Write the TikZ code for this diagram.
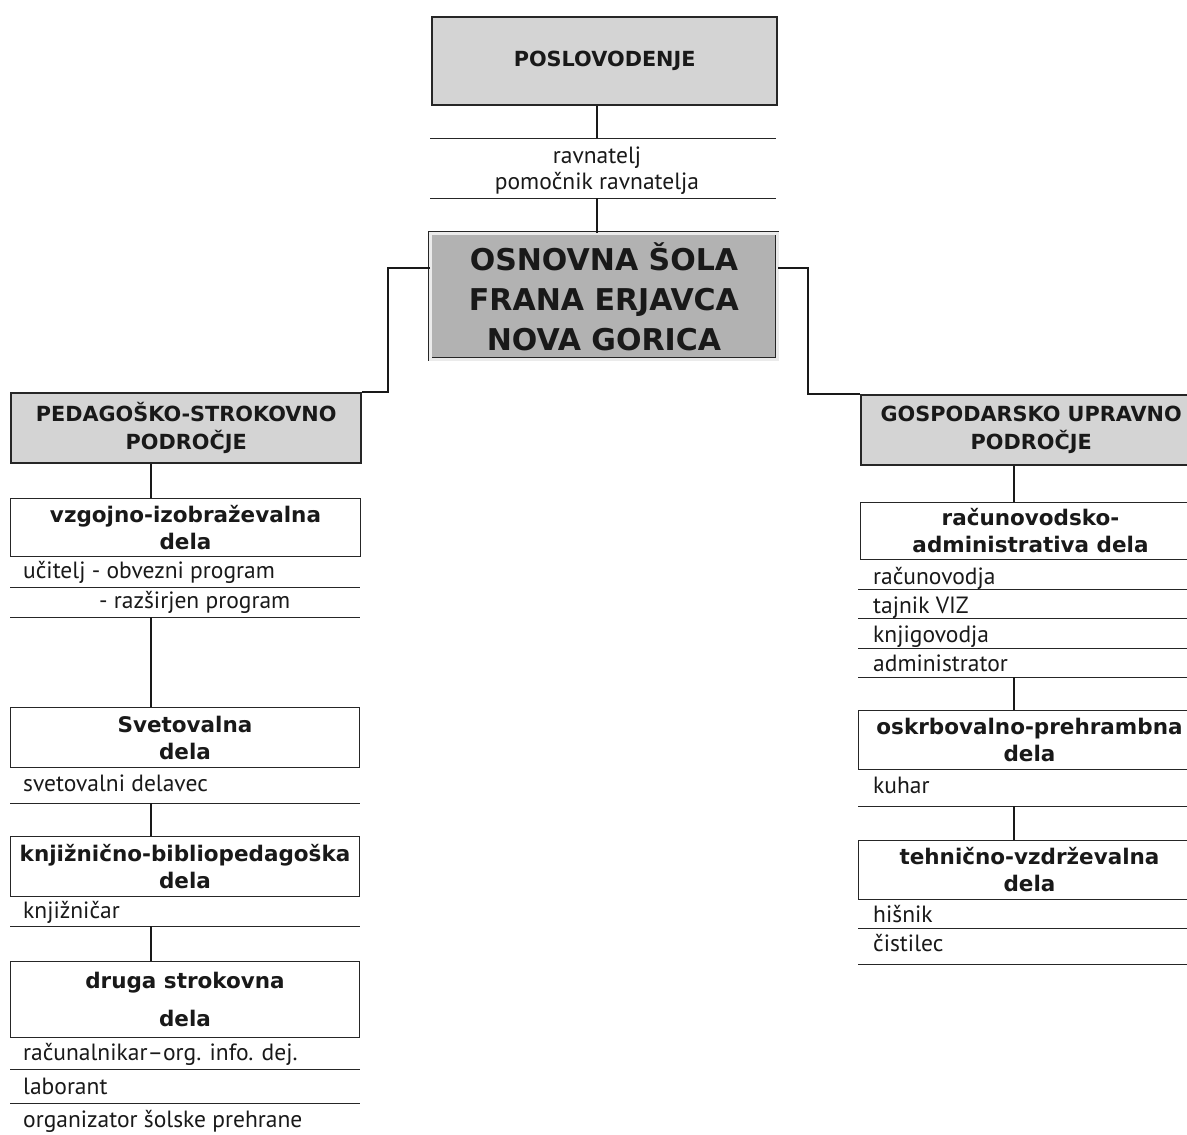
\documentclass[tikz,border=0pt]{standalone}
\usepackage{fontspec}
\setmainfont{PT Sans}
\newfontfamily\hfont{DejaVu Sans}
\begin{document}
\begin{tikzpicture}[x=1pt,y=-1pt,
  hd/.style={font=\hfont\bfseries\fontsize{21.5}{27}\selectfont, text=black!90},
  hdc/.style={font=\hfont\bfseries\fontsize{20.8}{28}\selectfont},
  body/.style={font=\fontsize{23.5}{27}\selectfont, text=black!90, inner sep=0pt, anchor=mid west, yshift=-3pt},
  bodyc/.style={body, anchor=mid},
  box/.style={draw=black!85, line width=1pt, anchor=north west, align=center, inner sep=0pt, hd, fill=white},
  gbox/.style={box, fill=black!17, line width=2.4pt, hdc},
  cbox/.style={box, fill=black!30, line width=0.9pt, double=black!8, double distance=2.2pt,
     font=\hfont\bfseries\fontsize{30}{40}\selectfont},
  rule/.style={line width=1pt, draw=black!85},
  conn/.style={line width=2pt, draw=black!90},
  thinconn/.style={line width=1.2pt, draw=black!90}]
\clip (0,0) rectangle (1187,1135);
\fill[white] (0,0) rectangle (1187,1135);

% top
\node[gbox, minimum width=345pt, minimum height=88pt] (pos) at (431,16) {POSLOVODENJE};
\coordinate (vt) at (597,0);
\coordinate (r1a) at (430,138); \coordinate (r1b) at (776,138);
\coordinate (r2a) at (430,198); \coordinate (r2b) at (776,198);
\draw[rule] (r1a) -- (r1b);
\draw[rule] (r2a) -- (r2b);
\node[bodyc] (rav) at (597,158) {ravnatelj};
\node[bodyc] (pom) at (597,184) {pomočnik ravnatelja};
\node[cbox, minimum width=347pt, minimum height=126pt] (os) at (430,233) {OSNOVNA ŠOLA\\FRANA ERJAVCA\\NOVA GORICA};
\draw[conn] (pos.south -| vt) -- (r1a -| vt);
\draw[conn] (r2a -| vt) -- (os.north -| vt);

% headers
\node[gbox, minimum width=350pt, minimum height=70pt] (ped) at (10,392) {PEDAGOŠKO-STROKOVNO\\PODROČJE};
\node[gbox, minimum width=340pt, minimum height=70pt] (gos) at (860,394) {GOSPODARSKO UPRAVNO\\PODROČJE};
\coordinate (cl) at (388,268);
\coordinate (cr) at (808,268);
\draw[thinconn] (os.west |- cl) -| (cl |- ped.north) -- (ped.north east);
\draw[thinconn] (os.east |- cr) -| (cr |- gos.north) -- (gos.north west);

% left column
\coordinate (vl) at (151,0);
\node[box, minimum width=350pt, minimum height=58pt] (vzg) at (10,498) {vzgojno-izobraževalna\\dela};
\draw[conn] (ped.south -| vl) -- (vzg.north -| vl);
\node[body] (uc) at (23,573) {učitelj - obvezni program};
\draw[rule] (10,587) -- (360,587);
\node[body] (raz) at (99,603) {- razširjen program};
\coordinate (lr2) at (10,617);
\draw[rule] (lr2) -- (360,617);
\node[box, minimum width=349pt, minimum height=60pt] (sve) at (10,707) {Svetovalna\\dela};
\draw[conn] (lr2 -| vl) -- (sve.north -| vl);
\node[body] (svd) at (23,786) {svetovalni delavec};
\coordinate (lr3) at (10,803);
\draw[rule] (lr3) -- (360,803);
\node[box, minimum width=349pt, minimum height=60pt] (knj) at (10,836) {knjižnično-bibliopedagoška\\dela};
\draw[conn] (lr3 -| vl) -- (knj.north -| vl);
\node[body] (knc) at (23,913) {knjižničar};
\coordinate (lr4) at (10,926);
\draw[rule] (lr4) -- (360,926);
\node[box, minimum width=349pt, minimum height=76pt, font=\hfont\bfseries\fontsize{21.5}{38}\selectfont] (dru) at (10,961) {druga strokovna\\dela};
\draw[conn] (lr4 -| vl) -- (dru.north -| vl);
\node[body] (rac) at (23,1055) {računalnikar–org. info. dej.};
\draw[rule] (10,1069) -- (360,1069);
\node[body] (lab) at (23,1089) {laborant};
\draw[rule] (10,1103) -- (360,1103);
\node[body] (org) at (23,1122) {organizator šolske prehrane};

% right column
\coordinate (vr) at (1014,0);
\node[box, minimum width=340pt, minimum height=57pt] (rcv) at (860,502) {računovodsko-\\administrativa dela};
\draw[conn] (gos.south -| vr) -- (rcv.north -| vr);
\node[body] (rv) at (873,579) {računovodja};
\draw[rule] (858,589) -- (1200,589);
\node[body] (taj) at (873,608) {tajnik VIZ};
\draw[rule] (858,618) -- (1200,618);
\node[body] (kng) at (873,637) {knjigovodja};
\draw[rule] (858,648) -- (1200,648);
\node[body] (adm) at (873,666) {administrator};
\coordinate (rr4) at (858,677);
\draw[rule] (rr4) -- (1200,677);
\node[box, minimum width=342pt, minimum height=59pt] (osk) at (858,710) {oskrbovalno-prehrambna\\dela};
\draw[conn] (rr4 -| vr) -- (osk.north -| vr);
\node[body] (kuh) at (873,788) {kuhar};
\coordinate (rr5) at (858,806);
\draw[rule] (rr5) -- (1200,806);
\node[box, minimum width=342pt, minimum height=59pt] (teh) at (858,840) {tehnično-vzdrževalna\\dela};
\draw[conn] (rr5 -| vr) -- (teh.north -| vr);
\node[body] (his) at (873,917) {hišnik};
\draw[rule] (858,928) -- (1200,928);
\node[body] (cis) at (873,946) {čistilec};
\draw[rule] (858,964) -- (1200,964);
\end{tikzpicture}
\end{document}
